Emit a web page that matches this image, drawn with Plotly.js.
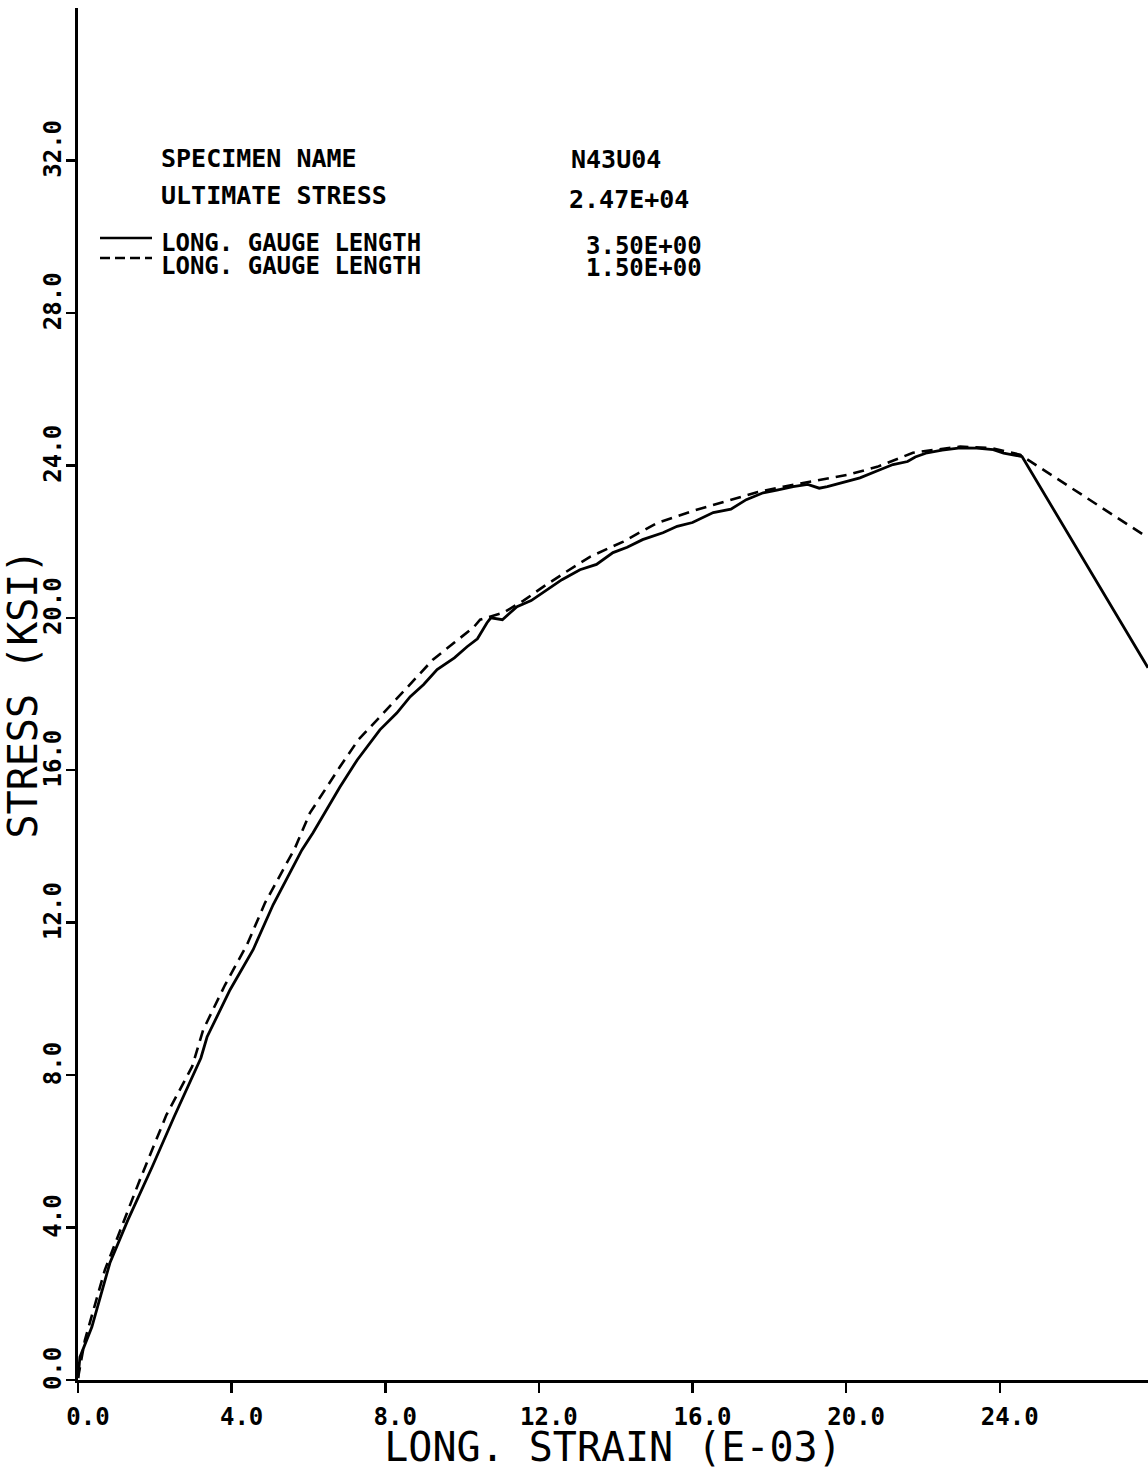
<!DOCTYPE html>
<html>
<head>
<meta charset="utf-8">
<script src="https://cdn.plot.ly/plotly-3.0.1.min.js"></script>
<style>html,body{margin:0;padding:0;background:#fff;}</style>
</head>
<body>
<div id="chart" style="width:1148px;height:1470px;"></div>
<script>
// Long. gauge length 3.50E+00 (solid)
const solidStrain = [0, 0.05, 0.36, 0.83, 1.30, 1.74, 1.93, 2.50, 3.10, 3.20, 3.36, 3.96, 4.56, 5.08, 5.83, 6.12, 6.82, 7.27, 7.86, 8.30, 8.65, 9.00, 9.35, 9.80, 10.13, 10.40, 10.65, 10.75, 11.05, 11.43, 11.80, 12.21, 12.60, 13.07, 13.50, 13.93, 14.30, 14.70, 15.23, 15.60, 16.00, 16.54, 17.00, 17.40, 17.84, 18.20, 18.62, 19.00, 19.30, 19.51, 19.90, 20.36, 20.80, 21.22, 21.60, 21.80, 22.11, 22.50, 22.97, 23.40, 23.83, 24.10, 24.58, 27.86];
const solidStress = [0.05, 0.60, 1.39, 3.07, 4.20, 5.17, 5.59, 6.90, 8.22, 8.45, 9.00, 10.24, 11.29, 12.47, 13.91, 14.36, 15.56, 16.27, 17.06, 17.50, 17.93, 18.25, 18.64, 18.95, 19.24, 19.45, 19.87, 20.00, 19.95, 20.29, 20.45, 20.73, 21.00, 21.26, 21.40, 21.71, 21.85, 22.05, 22.23, 22.40, 22.50, 22.76, 22.85, 23.10, 23.28, 23.35, 23.44, 23.50, 23.40, 23.44, 23.55, 23.67, 23.85, 24.02, 24.10, 24.22, 24.33, 24.40, 24.46, 24.45, 24.41, 24.32, 24.23, 18.69];

// Long. gauge length 1.50E+00 (dashed)
const dashStrain = [0, 0.18, 0.70, 1.61, 2.30, 2.97, 3.26, 3.83, 4.40, 4.87, 5.65, 6.04, 6.82, 7.30, 7.86, 8.50, 9.24, 9.80, 10.30, 10.47, 11.07, 11.60, 12.11, 12.70, 13.33, 14.20, 15.08, 16.00, 16.98, 17.70, 18.36, 19.20, 20.03, 20.81, 21.74, 22.40, 22.97, 23.80, 24.53, 27.86];
const dashStress = [0.05, 1.05, 2.89, 5.25, 6.95, 8.22, 9.19, 10.37, 11.42, 12.52, 13.96, 14.88, 16.09, 16.80, 17.40, 18.10, 18.90, 19.35, 19.75, 19.95, 20.13, 20.45, 20.81, 21.20, 21.60, 22.00, 22.49, 22.80, 23.10, 23.30, 23.44, 23.60, 23.75, 23.96, 24.33, 24.42, 24.49, 24.45, 24.28, 22.10];

const xTickVals = [0, 4, 8, 12, 16, 20, 24];
const xTickText = ["0.0", "4.0", "8.0", "12.0", "16.0", "20.0", "24.0"];
const yTickVals = [0, 4, 8, 12, 16, 20, 24, 28, 32];
const yTickText = ["0.0", "4.0", "8.0", "12.0", "16.0", "20.0", "24.0", "28.0", "32.0"];

const infoLabels = ["SPECIMEN NAME", "ULTIMATE STRESS", "LONG. GAUGE LENGTH", "LONG. GAUGE LENGTH"];
const infoValues = ["N43U04", "2.47E+04", "3.50E+00", "1.50E+00"];

const W = 1148, H = 1470, L = 78, R = 0, T = 8, B = 90;
const pw = W - L - R, ph = H - T - B;
const px2x = p => (p - L) / pw;
const py2y = p => (H - B - p) / ph;

const MONO = '"DejaVu Sans Mono", monospace';

const traces = [
  {x: solidStrain, y: solidStress, mode: 'lines', name: 'LONG. GAUGE LENGTH 3.50E+00',
   line: {color: '#000', width: 2.8}},
  {x: dashStrain, y: dashStress, mode: 'lines', name: 'LONG. GAUGE LENGTH 1.50E+00',
   line: {color: '#000', width: 2.6, dash: '11px,7px'}}
];

const labelY = [158, 196, 243, 266];
const valueY = [160, 200, 246, 268];
const valueX = [570, 568, 585, 585];
const sizes = [25, 25, 24, 24];
const annotations = [];
infoLabels.forEach((t, i) => {
  annotations.push({text: t, xref: 'paper', yref: 'paper', x: px2x(160), y: py2y(labelY[i]),
    xanchor: 'left', yanchor: 'middle', showarrow: false, borderpad: 0,
    font: {family: MONO, size: sizes[i], color: '#000', weight: 'bold'}});
  annotations.push({text: infoValues[i], xref: 'paper', yref: 'paper', x: px2x(valueX[i]), y: py2y(valueY[i]),
    xanchor: 'left', yanchor: 'middle', showarrow: false, borderpad: 0,
    font: {family: MONO, size: sizes[i], color: '#000', weight: 'bold'}});
});

const shapes = [
  {type: 'line', xref: 'paper', yref: 'paper', x0: px2x(100), x1: px2x(152), y0: py2y(238), y1: py2y(238),
   line: {color: '#000', width: 2.6}},
  {type: 'line', xref: 'paper', yref: 'paper', x0: px2x(100), x1: px2x(152), y0: py2y(258), y1: py2y(258),
   line: {color: '#000', width: 2.6, dash: '10px,5px'}}
];

const layout = {
  width: W, height: H,
  margin: {l: L, r: R, t: T, b: B, pad: 0},
  paper_bgcolor: '#fff', plot_bgcolor: '#fff',
  showlegend: false,
  xaxis: {
    range: [0, 27.86], tickvals: xTickVals, ticktext: xTickText,
    showgrid: false, zeroline: false, showline: true, linecolor: '#000', linewidth: 3,
    ticks: 'outside', ticklen: 10, tickwidth: 2.5, tickcolor: '#000',
    tickfont: {family: MONO, size: 24, color: '#000', weight: 'bold'},
    ticklabelshift: 10, ticklabelstandoff: 3,
    title: {text: 'LONG. STRAIN (E-03)', font: {family: MONO, size: 40, color: '#000'}, standoff: 0},
    automargin: false, fixedrange: true
  },
  yaxis: {
    range: [0, 36], tickvals: yTickVals, ticktext: yTickText,
    showgrid: false, zeroline: false, showline: true, linecolor: '#000', linewidth: 3,
    ticks: 'outside', ticklen: 9, tickwidth: 2.5, tickcolor: '#000',
    tickangle: -90,
    tickfont: {family: MONO, size: 24, color: '#000', weight: 'bold'},
    ticklabelshift: -8, ticklabelstandoff: -5,
    title: {text: 'STRESS (KSI)', font: {family: MONO, size: 40, color: '#000'}, standoff: 0},
    automargin: false, fixedrange: true
  },
  annotations: annotations,
  shapes: shapes
};

Plotly.newPlot('chart', traces, layout, {staticPlot: true, displayModeBar: false});
</script>
</body>
</html>
